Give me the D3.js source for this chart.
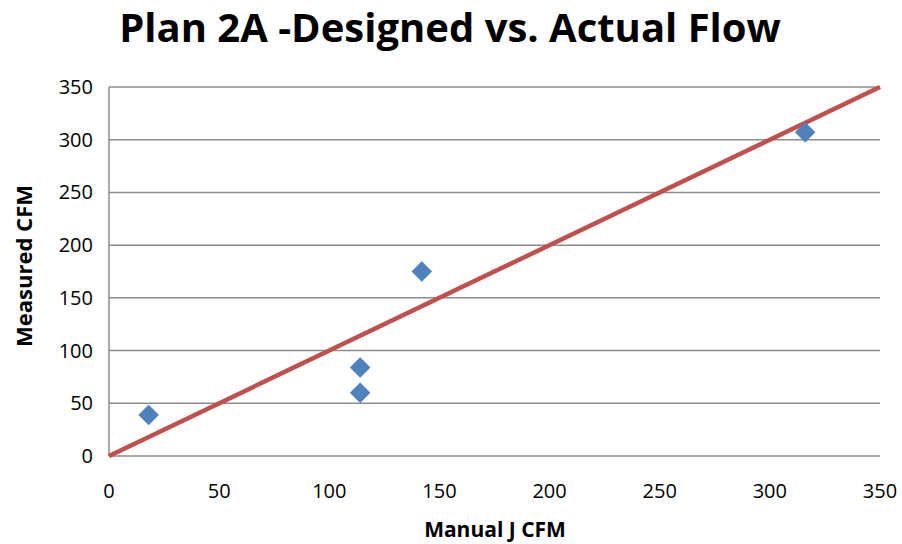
<html>
<head>
<script src="https://cdn.jsdelivr.net/npm/d3@7"></script>
<style>
  body { margin: 0; background: #fff; }
  text { font-family: "Open Sans", sans-serif; }
</style>
</head>
<body>
<svg id="chart"></svg>
<script>
// data
var manualJ = [18, 114, 114, 142, 316];
var measured = [39, 60, 84, 175, 307];
var refLine = [0, 350];
var ticks = [0, 50, 100, 150, 200, 250, 300, 350];

var W = 902, H = 544;
var plotL = 109, plotR = 880, plotT = 87, plotB = 456;

var svg = d3.select("#chart").attr("width", W).attr("height", H);

var x = d3.scaleLinear().domain([0, 350]).range([plotL, plotR]);
var y = d3.scaleLinear().domain([0, 350]).range([plotB, plotT]);

// gridlines
svg.append("g").selectAll("line").data(ticks.slice(1))
   .enter().append("line")
   .attr("x1", plotL).attr("x2", plotR)
   .attr("y1", function (d) { return y(d); })
   .attr("y2", function (d) { return y(d); })
   .attr("stroke", "#8c8c8c").attr("stroke-width", 1.5);

// axes
svg.append("line").attr("x1", plotL).attr("x2", plotL).attr("y1", plotT).attr("y2", plotB)
   .attr("stroke", "#8c8c8c").attr("stroke-width", 1.5);
svg.append("line").attr("x1", plotL).attr("x2", plotR).attr("y1", plotB).attr("y2", plotB)
   .attr("stroke", "#8c8c8c").attr("stroke-width", 1.5);

// tick labels
svg.append("g").selectAll("text").data(ticks).enter().append("text")
   .attr("x", plotL - 16).attr("y", function (d) { return y(d) + 7; })
   .attr("text-anchor", "end").attr("font-size", 20).attr("fill", "#000")
   .text(function (d) { return d; });
svg.append("g").selectAll("text").data(ticks).enter().append("text")
   .attr("x", function (d) { return x(d); }).attr("y", plotB + 42)
   .attr("text-anchor", "middle").attr("font-size", 20).attr("fill", "#000")
   .text(function (d) { return d; });

// reference line
svg.append("line")
   .attr("x1", x(refLine[0])).attr("y1", y(refLine[0]))
   .attr("x2", x(refLine[1])).attr("y2", y(refLine[1]))
   .attr("stroke", "#C0504D").attr("stroke-width", 4.5);

// points
svg.append("g").selectAll("path").data(manualJ).enter().append("path")
   .attr("d", d3.symbol().type(d3.symbolSquare).size(200))
   .attr("transform", function (d, i) {
       return "translate(" + x(d) + "," + y(measured[i]) + ") rotate(45)";
   })
   .attr("fill", "#4F81BD").attr("stroke", "#4a7ab3").attr("stroke-width", 0.5);

// titles
svg.append("text").attr("x", 450).attr("y", 42).attr("text-anchor", "middle")
   .attr("font-size", 40).attr("font-weight", "bold").text("Plan 2A -Designed vs. Actual Flow");
svg.append("text").attr("x", 495).attr("y", 537).attr("text-anchor", "middle")
   .attr("font-size", 21).attr("font-weight", "bold").text("Manual J CFM");
svg.append("text").attr("transform", "translate(32,266) rotate(-90)").attr("text-anchor", "middle")
   .attr("font-size", 22).attr("font-weight", "bold").text("Measured CFM");
</script>
</body>
</html>
